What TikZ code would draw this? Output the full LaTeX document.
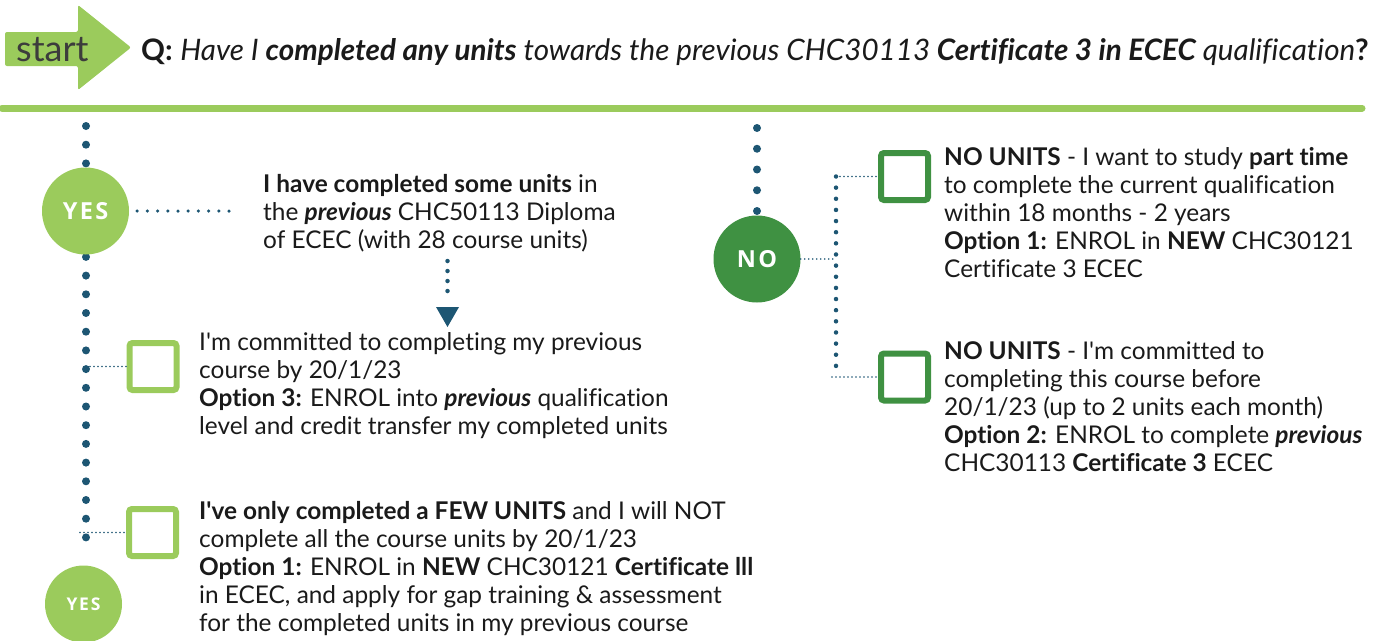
\documentclass[tikz,border=0pt]{standalone}
\usepackage{fontspec}
\setmainfont{Lato}[Ligatures={TeX,NoCommon}]
\newfontfamily\badgefont[LetterSpace=10]{Open Sans}
\definecolor{lightgreen}{HTML}{9BCB5C}
\definecolor{darkgreen}{HTML}{3F9142}
\definecolor{dotblue}{HTML}{1D5673}
\definecolor{ink}{HTML}{1A1A1A}
\begin{document}
\begin{tikzpicture}[x=1pt,y=-1pt,
  bigdots/.style={dotblue, line width=8pt, line cap=round, dash pattern=on 0pt off #1},
  middots/.style={dotblue, line width=4.5pt, line cap=round, dash pattern=on 0pt off #1},
  smalldots/.style={dotblue, line width=3.5pt, line cap=round, dash pattern=on 0pt off #1},
  finedots/.style={dotblue, line width=1.8pt, line cap=round, dash pattern=on 0pt off 4pt},
  badge/.style={circle, fill=#1, text=white, inner sep=0pt, font=\badgefont\bfseries\fontsize{23.5}{24}\selectfont},
  checkbox/.style={draw=#1, line width=6pt, rounded corners=3pt, minimum size=47pt, inner sep=0pt},
  body/.style={font=\fontsize{24.4}{28}\selectfont, text=ink, inner sep=0pt, align=left, anchor=base west},
]
\useasboundingbox (0,0) rectangle (1384,640);

% start arrow and question
\fill[lightgreen, rounded corners=2pt] (5,32) -- (78,32) -- (78,5) -- (131,47.5) -- (78,90) -- (78,66) -- (5,66) -- cycle;
\node[inner sep=0pt, anchor=base west, text=ink!85, font=\fontsize{36}{36}\selectfont] (start) at (16,61) {start};
\node[inner sep=0pt, anchor=base west, text=ink, font=\fontsize{29.6}{32}\selectfont] (question) at (141,60)
  {\textbf{Q:} \textit{Have I \textbf{completed any units} towards the previous CHC30113 \textbf{Certificate 3 in ECEC} qualification}\textbf{?}};
\draw[lightgreen, line width=7pt, line cap=round] (2,108) -- (1362,108);

% guide lines of the two branches
\coordinate (lline) at (86,0);
\coordinate (ltop) at (86,126);
\coordinate (lbot) at (86,556);
\draw[bigdots=18.7pt] (ltop) -- (lbot);
\coordinate (rtop) at (757,128);
\coordinate (rbot) at (757,211);
\draw[bigdots=20.75pt] (rtop) -- (rbot);
\coordinate (rline) at (836,0);

% badges
\node[badge=lightgreen, minimum size=87pt] (yes1) at (85.5,211) {YES};
\node[badge=lightgreen, minimum size=77pt, font=\badgefont\bfseries\fontsize{17.5}{18}\selectfont] (yes2) at (83.5,604) {YES};
\node[badge=darkgreen, minimum size=87pt] (no1) at (757,259) {NO};

% check boxes
\node[checkbox=lightgreen] (box1) at (153,366.5) {};
\node[checkbox=lightgreen] (box2) at (152.5,532.5) {};
\node[checkbox=darkgreen] (box3) at (904.5,176.5) {};
\node[checkbox=darkgreen] (box4) at (904.5,377) {};

% texts (each placed at the baseline of its last line)
\node[body] (txtA) at (263,248) {\textbf{I have completed some units} in\\
  the \textbf{\textit{previous}} CHC50113 Diploma\\
  of ECEC (with 28 course units)};
\node[body] (txtB) at (199,434) {I\textquotesingle m committed to completing my previous\\
  course by 20/1/23\\
  \textbf{Option 3:} ENROL into \textbf{\textit{previous}} qualification\\
  level and credit transfer my completed units};
\node[body] (txtC) at (199,631) {\textbf{I\textquotesingle ve only completed a FEW UNITS} and I will NOT\\
  complete all the course units by 20/1/23\\
  \textbf{Option 1:} ENROL in \textbf{NEW} CHC30121 \textbf{Certificate lll}\\
  in ECEC, and apply for gap training \& assessment\\
  for the completed units in my previous course};
\node[body] (txtD) at (944,277) {\textbf{NO UNITS} - I want to study \textbf{part time}\\
  to complete the current qualification\\
  within 18 months - 2 years\\
  \textbf{Option 1:} ENROL in \textbf{NEW} CHC30121\\
  Certificate 3 ECEC};
\node[body] (txtE) at (944,471) {\textbf{NO UNITS} - I\textquotesingle m committed to\\
  completing this course before\\
  20/1/23 (up to 2 units each month)\\
  \textbf{Option 2:} ENROL to complete \textbf{\textit{previous}}\\
  CHC30113 \textbf{Certificate 3} ECEC};

% connectors
\draw[smalldots=10.2pt] ([xshift=8pt]yes1.east) -- ([xshift=-24pt]txtA.west |- yes1.east);
\draw[finedots] (box1.west -| lline) -- (box1.west);
\draw[finedots] ([xshift=-6pt]box2.west -| lline) -- (box2.west);
\draw[finedots] (no1.east) -- (no1.east -| rline);
\draw[middots=11.14pt] (box3.west -| rline) -- (box4.west -| rline);
\draw[finedots] (box3.west -| rline) -- (box3.west);
\draw[finedots] ([xshift=-4pt]box4.west -| rline) -- (box4.west);

% arrow from the first answer to its option
\coordinate (adot1) at (447.5,261);
\coordinate (adot2) at (447.5,301);
\draw[middots=10pt] (adot1) -- (adot2);
\fill[dotblue] (436,307) -- (459,307) -- (447.5,327) -- cycle;
\end{tikzpicture}
\end{document}
